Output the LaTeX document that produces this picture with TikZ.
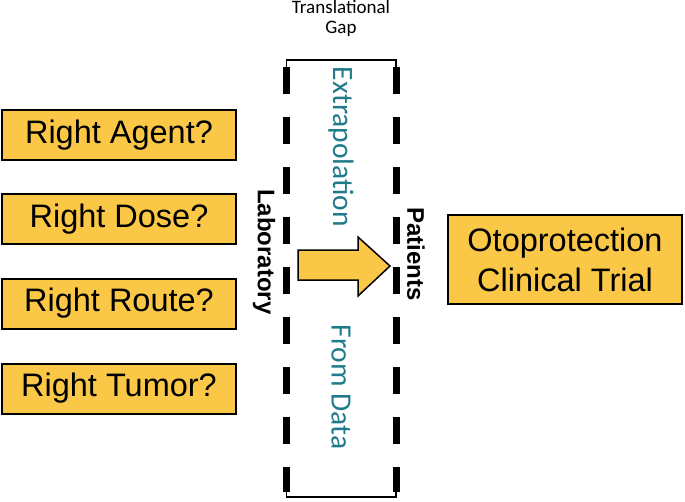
\documentclass[tikz,border=0pt]{standalone}
\usepackage{fontspec}
\setmainfont{Liberation Sans}
\newfontfamily\calfont{Carlito}
\definecolor{boxyellow}{RGB}{250,200,70}
\definecolor{tealtext}{RGB}{31,122,138}
\tikzset{
  qbox/.style={draw=black, line width=2pt, fill=boxyellow, minimum width=234pt, minimum height=50pt, inner sep=0pt, font=\fontsize{32.5}{38}\selectfont},
  gapline/.style={line width=7pt, dash pattern=on 27pt off 23pt, line cap=butt},
  bracketline/.style={line width=1.5pt},
  sidelabel/.style={font=\fontsize{24}{28}\selectfont\bfseries, rotate=-90, inner sep=0pt},
  gaplabel/.style={font=\calfont\fontsize{29.5}{34}\selectfont, text=tealtext, rotate=-90, inner sep=0pt}
}
\begin{document}
\begin{tikzpicture}[x=1pt,y=-1pt]
\useasboundingbox (0,0) rectangle (685,501);
% left boxes
\node[qbox] (agent) at (119,135) {Right Agent?};
\node[qbox] (dose) at (119,219) {Right Dose?};
\node[qbox] (route) at (119,303.5) {Right Route?};
\node[qbox] (tumor) at (119,388.5) {Right Tumor?};
% right box
\node[qbox, minimum height=89pt, align=center, font=\fontsize{32.5}{40}\selectfont] (trial) at (565,259.5) {Otoprotection\\Clinical Trial};
% gap lines
\coordinate (lt) at (286.5,67);
\coordinate (lb) at (286.5,492);
\coordinate (rt) at (396,67);
\coordinate (rb) at (396,492);
\draw[gapline] (lt) -- (lb);
\draw[gapline] (rt) -- (rb);
% brackets
\coordinate (blt) at (286.5,60);
\coordinate (brt) at (396,60);
\coordinate (blb) at (286.5,497);
\coordinate (brb) at (396,497);
\draw[bracketline] (lt) -- (blt) -- (brt) -- (rt);
\draw[bracketline] (lb) -- (blb) -- (brb) -- (rb);
% title
\node[font=\calfont\fontsize{19}{20}\selectfont, align=center, inner sep=0pt] (title) at (341,18) {Translational\\Gap};
% labels
\node[sidelabel] (lab) at (264,252) {Laboratory};
\node[sidelabel] (pat) at (416,254) {Patients};
\node[gaplabel] (extra) at (341,147) {Extrapolation};
\node[gaplabel] (data) at (341,387) {From Data};
% block arrow
\draw[line width=1.5pt, fill=boxyellow, line join=miter]
  (298,250) -- (358,250) -- (358,237) -- (390,266) -- (358,296) -- (358,280) -- (298,280) -- cycle;
\end{tikzpicture}
\end{document}
